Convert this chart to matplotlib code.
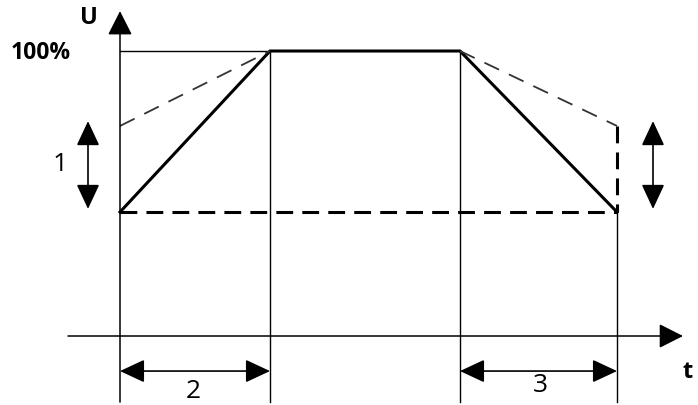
import matplotlib
matplotlib.use('Agg')
import matplotlib.pyplot as plt

# time points (arbitrary units) and voltage levels in %
t_marks = [0, 150, 340, 497]
u_full = 100
u_low = 43.5     # start / end level
u_high = 73.7    # alternative start / end level (thin dashed)

plt.rcParams['font.family'] = ['Open Sans', 'DejaVu Sans']

fig = plt.figure(figsize=(6.98, 4.06), dpi=100)
ax = fig.add_axes([0, 0, 1, 1])
ax.set_xlim(-120, 578)
ax.set_ylim(-24.21, 118.25)
ax.axis('off')

t0, t1, t2, t3 = t_marks
k = 'black'

# axes with arrows
ax.annotate('', xy=(0, 114), xytext=(0, -23.2),
            arrowprops=dict(arrowstyle='-|>,head_length=0.75,head_width=0.38',
                            mutation_scale=20, lw=1.1, color=k, shrinkA=0, shrinkB=0))
ax.annotate('', xy=(563, 0), xytext=(-52, 0),
            arrowprops=dict(arrowstyle='-|>,head_length=0.75,head_width=0.38',
                            mutation_scale=20, lw=1.1, color=k, shrinkA=0, shrinkB=0))

# thin reference lines
ax.plot([t0, t1], [u_full, u_full], color=k, lw=1.0)
ax.plot([t1, t1], [u_full, -23.2], color=k, lw=1.0)
ax.plot([t2, t2], [u_full, -23.2], color=k, lw=1.0)
ax.plot([t3, t3], [u_low, -23.2], color=k, lw=1.0)

# main profile
ax.plot([t0, t1, t2, t3], [u_low, u_full, u_full, u_low], color=k, lw=2.2,
        solid_joinstyle='miter')
ax.plot([t0, t3], [u_low, u_low], color=k, lw=2.2, dashes=(5.5, 3))
ax.plot([t3, t3], [u_high, u_low], color=k, lw=2.2, dashes=(5.5, 3))

# alternative ramps
ax.plot([t0, t1], [u_high, u_full], color='#333333', lw=1.3, dashes=(9, 6))
ax.plot([t2, t3], [u_full, u_high], color='#333333', lw=1.3, dashes=(9, 6))

# double arrows
dbl = dict(arrowstyle='<|-|>,head_length=0.9,head_width=0.42',
           mutation_scale=17, lw=1.2, color=k, shrinkA=0, shrinkB=0)
ax.annotate('', xy=(-32, 75.4), xytext=(-32, 44.6), arrowprops=dbl)
ax.annotate('', xy=(533, 75.4), xytext=(533, 44.6), arrowprops=dbl)
ax.annotate('', xy=(t0, -12.3), xytext=(t1, -12.3), arrowprops=dbl)
ax.annotate('', xy=(t2, -12.3), xytext=(t3, -12.3), arrowprops=dbl)

# labels
ax.text(-22, 112.0, 'U', fontsize=17, fontweight='bold', ha='right', va='center')
ax.text(-49, 99.5, '100%', fontsize=16.5, fontweight='bold', ha='right', va='center')
ax.text(-60, 60.4, '1', fontsize=19, ha='center', va='center')
ax.text(73, -19.0, '2', fontsize=19, ha='center', va='center')
ax.text(420, -17.0, '3', fontsize=19, ha='center', va='center')
ax.text(568, -12.3, 't', fontsize=17, fontweight='bold', ha='center', va='center')

fig.savefig('out.png', dpi=100)
